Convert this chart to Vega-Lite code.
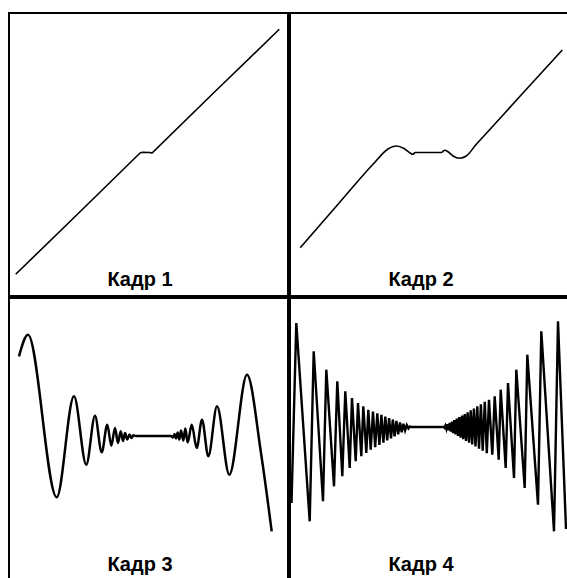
{
  "$schema": "https://vega.github.io/schema/vega-lite/v6.json",
  "padding": {"left": 8, "top": 12, "right": 0, "bottom": 0},
  "background": "white",
  "datasets": {
    "curves": [
      {"panel": "Кадр 1", "x": 6.7, "y": 21.7},
      {"panel": "Кадр 1", "x": 70, "y": 83.3},
      {"panel": "Кадр 1", "x": 129, "y": 141},
      {"panel": "Кадр 1", "x": 131.5, "y": 143.3},
      {"panel": "Кадр 1", "x": 133.5, "y": 143.8},
      {"panel": "Кадр 1", "x": 141, "y": 143.5},
      {"panel": "Кадр 1", "x": 143, "y": 143},
      {"panel": "Кадр 1", "x": 205, "y": 203.5},
      {"panel": "Кадр 1", "x": 270.3, "y": 266.7},

      {"panel": "Кадр 2", "x": 10.3, "y": 48.3},
      {"panel": "Кадр 2", "x": 50, "y": 94},
      {"panel": "Кадр 2", "x": 83, "y": 131.7},
      {"panel": "Кадр 2", "x": 98, "y": 147},
      {"panel": "Кадр 2", "x": 106.3, "y": 150},
      {"panel": "Кадр 2", "x": 114, "y": 147.5},
      {"panel": "Кадр 2", "x": 119.7, "y": 143.3},
      {"panel": "Кадр 2", "x": 123, "y": 141.7},
      {"panel": "Кадр 2", "x": 125, "y": 143.5},
      {"panel": "Кадр 2", "x": 151.3, "y": 143.5},
      {"panel": "Кадр 2", "x": 154.7, "y": 145.7},
      {"panel": "Кадр 2", "x": 158, "y": 144.3},
      {"panel": "Кадр 2", "x": 163, "y": 140},
      {"panel": "Кадр 2", "x": 169.7, "y": 137.7},
      {"panel": "Кадр 2", "x": 176.3, "y": 140},
      {"panel": "Кадр 2", "x": 186.3, "y": 151.7},
      {"panel": "Кадр 2", "x": 193, "y": 159},
      {"panel": "Кадр 2", "x": 230, "y": 199.7},
      {"panel": "Кадр 2", "x": 272.3, "y": 246},

      {"panel": "Кадр 3", "x": 10, "y": 224.7},
      {"panel": "Кадр 3", "x": 19, "y": 246.3},
      {"panel": "Кадр 3", "x": 47.7, "y": 83.7},
      {"panel": "Кадр 3", "x": 65, "y": 184.7},
      {"panel": "Кадр 3", "x": 77.3, "y": 116.3},
      {"panel": "Кадр 3", "x": 86, "y": 165.3},
      {"panel": "Кадр 3", "x": 92.7, "y": 128.7},
      {"panel": "Кадр 3", "x": 98.3, "y": 156.3},
      {"panel": "Кадр 3", "x": 102.3, "y": 135.3},
      {"panel": "Кадр 3", "x": 106, "y": 153},
      {"panel": "Кадр 3", "x": 109, "y": 138},
      {"panel": "Кадр 3", "x": 111.7, "y": 149.7},
      {"panel": "Кадр 3", "x": 114, "y": 140},
      {"panel": "Кадр 3", "x": 116, "y": 148},
      {"panel": "Кадр 3", "x": 118.3, "y": 141.5},
      {"panel": "Кадр 3", "x": 120.5, "y": 146.5},
      {"panel": "Кадр 3", "x": 122.5, "y": 143},
      {"panel": "Кадр 3", "x": 124.3, "y": 145.7},
      {"panel": "Кадр 3", "x": 126.5, "y": 145},
      {"panel": "Кадр 3", "x": 162, "y": 145},
      {"panel": "Кадр 3", "x": 164, "y": 143.5},
      {"panel": "Кадр 3", "x": 165.5, "y": 147},
      {"panel": "Кадр 3", "x": 167, "y": 142.5},
      {"panel": "Кадр 3", "x": 168.7, "y": 148.5},
      {"panel": "Кадр 3", "x": 170.3, "y": 141.5},
      {"panel": "Кадр 3", "x": 172, "y": 150.5},
      {"panel": "Кадр 3", "x": 174.3, "y": 140.5},
      {"panel": "Кадр 3", "x": 176.3, "y": 152.5},
      {"panel": "Кадр 3", "x": 178.7, "y": 138.5},
      {"panel": "Кадр 3", "x": 182.7, "y": 156.3},
      {"panel": "Кадр 3", "x": 187.7, "y": 133},
      {"panel": "Кадр 3", "x": 193, "y": 161.3},
      {"panel": "Кадр 3", "x": 199.3, "y": 124.7},
      {"panel": "Кадр 3", "x": 208, "y": 174.7},
      {"panel": "Кадр 3", "x": 220.3, "y": 106.3},
      {"panel": "Кадр 3", "x": 238, "y": 206.3},
      {"panel": "Кадр 3", "x": 252, "y": 128},
      {"panel": "Кадр 3", "x": 262.7, "y": 49.7},

      {"panel": "Кадр 4", "x": 1.5, "y": 78},
      {"panel": "Кадр 4", "x": 6.3, "y": 258},
      {"panel": "Кадр 4", "x": 19.7, "y": 59.7},
      {"panel": "Кадр 4", "x": 23.7, "y": 229.7},
      {"panel": "Кадр 4", "x": 33, "y": 79.7},
      {"panel": "Кадр 4", "x": 36.3, "y": 211.3},
      {"panel": "Кадр 4", "x": 44, "y": 94.7},
      {"panel": "Кадр 4", "x": 47.3, "y": 199.7},
      {"panel": "Кадр 4", "x": 52.3, "y": 104.7},
      {"panel": "Кадр 4", "x": 55.3, "y": 189.7},
      {"panel": "Кадр 4", "x": 59.7, "y": 113},
      {"panel": "Кадр 4", "x": 62, "y": 183},
      {"panel": "Кадр 4", "x": 65.7, "y": 119.7},
      {"panel": "Кадр 4", "x": 68, "y": 178},
      {"panel": "Кадр 4", "x": 71.3, "y": 124.7},
      {"panel": "Кадр 4", "x": 73.3, "y": 174.7},
      {"panel": "Кадр 4", "x": 76.3, "y": 128},
      {"panel": "Кадр 4", "x": 78.3, "y": 171.3},
      {"panel": "Кадр 4", "x": 80.7, "y": 131.3},
      {"panel": "Кадр 4", "x": 83, "y": 169.4},
      {"panel": "Кадр 4", "x": 85.2, "y": 133.8},
      {"panel": "Кадр 4", "x": 87.3, "y": 167.7},
      {"panel": "Кадр 4", "x": 89.4, "y": 136.2},
      {"panel": "Кадр 4", "x": 91.4, "y": 166.1},
      {"panel": "Кадр 4", "x": 93.4, "y": 138.4},
      {"panel": "Кадр 4", "x": 95.3, "y": 164.5},
      {"panel": "Кадр 4", "x": 97.2, "y": 140.5},
      {"panel": "Кадр 4", "x": 99.1, "y": 163},
      {"panel": "Кадр 4", "x": 101, "y": 142.7},
      {"panel": "Кадр 4", "x": 102.8, "y": 161.5},
      {"panel": "Кадр 4", "x": 104.6, "y": 144.7},
      {"panel": "Кадр 4", "x": 106.4, "y": 160},
      {"panel": "Кадр 4", "x": 108.2, "y": 146.7},
      {"panel": "Кадр 4", "x": 110, "y": 158.6},
      {"panel": "Кадр 4", "x": 111.7, "y": 148.7},
      {"panel": "Кадр 4", "x": 113.4, "y": 157.3},
      {"panel": "Кадр 4", "x": 115.1, "y": 150.6},
      {"panel": "Кадр 4", "x": 116.8, "y": 155.9},
      {"panel": "Кадр 4", "x": 118.5, "y": 152.5},
      {"panel": "Кадр 4", "x": 120, "y": 154.6},
      {"panel": "Кадр 4", "x": 121.3, "y": 154},
      {"panel": "Кадр 4", "x": 153.4, "y": 154},
      {"panel": "Кадр 4", "x": 154.4, "y": 153.2},
      {"panel": "Кадр 4", "x": 155.4, "y": 155.4},
      {"panel": "Кадр 4", "x": 156.4, "y": 152},
      {"panel": "Кадр 4", "x": 157.5, "y": 156.7},
      {"panel": "Кадр 4", "x": 158.6, "y": 150.6},
      {"panel": "Кадр 4", "x": 159.7, "y": 158},
      {"panel": "Кадр 4", "x": 160.8, "y": 149.3},
      {"panel": "Кадр 4", "x": 162, "y": 159.4},
      {"panel": "Кадр 4", "x": 163.1, "y": 147.9},
      {"panel": "Кадр 4", "x": 164.3, "y": 160.8},
      {"panel": "Кадр 4", "x": 165.5, "y": 146.5},
      {"panel": "Кадр 4", "x": 166.8, "y": 162.3},
      {"panel": "Кадр 4", "x": 168, "y": 145},
      {"panel": "Кадр 4", "x": 169.3, "y": 163.8},
      {"panel": "Кадр 4", "x": 170.6, "y": 143.4},
      {"panel": "Кадр 4", "x": 172, "y": 165.4},
      {"panel": "Кадр 4", "x": 173.3, "y": 141.8},
      {"panel": "Кадр 4", "x": 174.7, "y": 167},
      {"panel": "Кадр 4", "x": 176.1, "y": 140.1},
      {"panel": "Кадр 4", "x": 177.6, "y": 168.8},
      {"panel": "Кадр 4", "x": 179.1, "y": 138.3},
      {"panel": "Кадр 4", "x": 180.7, "y": 170.6},
      {"panel": "Кадр 4", "x": 182.2, "y": 136.5},
      {"panel": "Кадр 4", "x": 183.9, "y": 172.5},
      {"panel": "Кадр 4", "x": 185.5, "y": 134.5},
      {"panel": "Кадр 4", "x": 187.3, "y": 174.6},
      {"panel": "Кадр 4", "x": 189, "y": 132.4},
      {"panel": "Кадр 4", "x": 190.9, "y": 176.7},
      {"panel": "Кадр 4", "x": 192.7, "y": 130.2},
      {"panel": "Кадр 4", "x": 194.8, "y": 179.1},
      {"panel": "Кадр 4", "x": 196.8, "y": 127.7},
      {"panel": "Кадр 4", "x": 199, "y": 181.3},
      {"panel": "Кадр 4", "x": 202.3, "y": 126.3},
      {"panel": "Кадр 4", "x": 204.7, "y": 184.7},
      {"panel": "Кадр 4", "x": 208.7, "y": 121.3},
      {"panel": "Кадр 4", "x": 210.7, "y": 191.3},
      {"panel": "Кадр 4", "x": 215.7, "y": 113},
      {"panel": "Кадр 4", "x": 218, "y": 198},
      {"panel": "Кадр 4", "x": 224, "y": 103},
      {"panel": "Кадр 4", "x": 226.3, "y": 211.3},
      {"panel": "Кадр 4", "x": 234.7, "y": 93},
      {"panel": "Кадр 4", "x": 237.3, "y": 226.3},
      {"panel": "Кадр 4", "x": 248, "y": 76.3},
      {"panel": "Кадр 4", "x": 251.3, "y": 249.7},
      {"panel": "Кадр 4", "x": 264, "y": 49.7},
      {"panel": "Кадр 4", "x": 268, "y": 259.7},
      {"panel": "Кадр 4", "x": 276, "y": 52}
    ]
  },
  "data": {"name": "curves"},
  "facet": {"field": "panel", "type": "nominal", "header": {"title": null, "labelExpr": "''", "labelFontSize": 0, "labelPadding": 0}},
  "columns": 2,
  "spacing": 0,
  "spec": {
    "width": 279,
    "height": 283,
    "layer": [
      {
        "transform": [{"filter": "datum.panel == 'Кадр 1'"}],
        "mark": {"type": "line", "interpolate": "linear", "color": "black", "strokeWidth": 1.6, "clip": true},
        "encoding": {
          "x": {"field": "x", "type": "quantitative", "scale": {"domain": [0, 279], "nice": false, "zero": false}, "axis": null},
          "y": {"field": "y", "type": "quantitative", "scale": {"domain": [0, 283], "nice": false, "zero": false}, "axis": null}
        }
      },
      {
        "transform": [{"filter": "datum.panel == 'Кадр 2'"}],
        "mark": {"type": "line", "interpolate": "monotone", "color": "black", "strokeWidth": 1.6, "clip": true},
        "encoding": {
          "x": {"field": "x", "type": "quantitative"},
          "y": {"field": "y", "type": "quantitative"}
        }
      },
      {
        "transform": [{"filter": "datum.panel == 'Кадр 3'"}],
        "mark": {"type": "line", "interpolate": "monotone", "color": "black", "strokeWidth": 2.5, "clip": true},
        "encoding": {
          "x": {"field": "x", "type": "quantitative"},
          "y": {"field": "y", "type": "quantitative"}
        }
      },
      {
        "transform": [{"filter": "datum.panel == 'Кадр 4'"}],
        "mark": {"type": "line", "interpolate": "linear", "color": "black", "strokeWidth": 2.4, "clip": true},
        "encoding": {
          "x": {"field": "x", "type": "quantitative"},
          "y": {"field": "y", "type": "quantitative"}
        }
      },
      {
        "transform": [{"aggregate": [{"op": "count", "as": "n"}], "groupby": ["panel"]}],
        "mark": {"type": "text", "font": "Liberation Sans", "fontWeight": "bold", "fontSize": 20, "baseline": "alphabetic", "align": "center", "color": "black"},
        "encoding": {
          "x": {"datum": 131, "type": "quantitative"},
          "y": {"datum": 10, "type": "quantitative"},
          "text": {"field": "panel", "type": "nominal"}
        }
      }
    ]
  },
  "config": {
    "view": {"stroke": "black", "strokeWidth": 2},
    "facet": {"spacing": 0},
    "header": {"title": null, "labelExpr": "''", "labelFontSize": 0, "labelPadding": 0}
  }
}
